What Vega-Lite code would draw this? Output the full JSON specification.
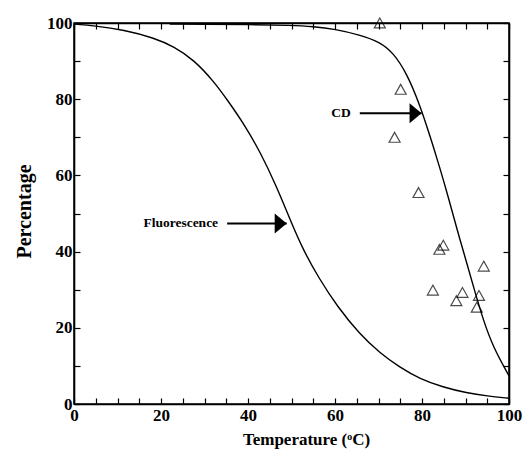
{
  "$schema": "https://vega.github.io/schema/vega-lite/v6.json",
  "width": 435,
  "height": 381,
  "autosize": {"type": "none"},
  "padding": {"left": 74, "top": 23, "right": 15, "bottom": 53},
  "background": "white",
  "config": {
    "view": {"stroke": "black", "strokeWidth": 1.5},
    "font": "Liberation Serif",
    "axis": {
      "grid": false,
      "domainColor": "black",
      "domainWidth": 1.6,
      "tickColor": "black",
      "tickWidth": 1.2,
      "labelFont": "Liberation Serif",
      "labelFontWeight": "bold",
      "labelFontSize": 17,
      "labelColor": "black",
      "labelOverlap": false,
      "labelFlush": false,
      "titleFont": "Liberation Serif",
      "titleFontWeight": "bold",
      "titleColor": "black"
    }
  },
  "datasets": {
    "curves": [
      {"series": "Fluorescence", "temp": 0, "pct": 99.7},
      {"series": "Fluorescence", "temp": 4.6, "pct": 99.3},
      {"series": "Fluorescence", "temp": 11.5, "pct": 98.2},
      {"series": "Fluorescence", "temp": 18.4, "pct": 96.1},
      {"series": "Fluorescence", "temp": 23, "pct": 93.8},
      {"series": "Fluorescence", "temp": 27.6, "pct": 90.3},
      {"series": "Fluorescence", "temp": 32.2, "pct": 84.6},
      {"series": "Fluorescence", "temp": 35.5, "pct": 79.4},
      {"series": "Fluorescence", "temp": 38.9, "pct": 73.8},
      {"series": "Fluorescence", "temp": 42.8, "pct": 66.2},
      {"series": "Fluorescence", "temp": 46.6, "pct": 57},
      {"series": "Fluorescence", "temp": 49.7, "pct": 48.3},
      {"series": "Fluorescence", "temp": 52.7, "pct": 40.4},
      {"series": "Fluorescence", "temp": 56.2, "pct": 33.2},
      {"series": "Fluorescence", "temp": 60.5, "pct": 25.6},
      {"series": "Fluorescence", "temp": 65.7, "pct": 18.3},
      {"series": "Fluorescence", "temp": 70.3, "pct": 13.4},
      {"series": "Fluorescence", "temp": 74.9, "pct": 9.6},
      {"series": "Fluorescence", "temp": 79.5, "pct": 6.6},
      {"series": "Fluorescence", "temp": 84.8, "pct": 4.4},
      {"series": "Fluorescence", "temp": 90.3, "pct": 2.9},
      {"series": "Fluorescence", "temp": 95, "pct": 2.1},
      {"series": "Fluorescence", "temp": 100, "pct": 1.5},
      {"series": "CD", "temp": 22, "pct": 99.7},
      {"series": "CD", "temp": 30, "pct": 99.7},
      {"series": "CD", "temp": 40, "pct": 99.6},
      {"series": "CD", "temp": 50, "pct": 99.4},
      {"series": "CD", "temp": 55, "pct": 99.1},
      {"series": "CD", "temp": 60, "pct": 98.4},
      {"series": "CD", "temp": 65.7, "pct": 96.9},
      {"series": "CD", "temp": 70.3, "pct": 95},
      {"series": "CD", "temp": 73.4, "pct": 92.2},
      {"series": "CD", "temp": 76.5, "pct": 86.8},
      {"series": "CD", "temp": 79.5, "pct": 78.5},
      {"series": "CD", "temp": 81.8, "pct": 70.5},
      {"series": "CD", "temp": 84.1, "pct": 62},
      {"series": "CD", "temp": 86, "pct": 54.5},
      {"series": "CD", "temp": 88, "pct": 46},
      {"series": "CD", "temp": 90.3, "pct": 37},
      {"series": "CD", "temp": 92.2, "pct": 29.3},
      {"series": "CD", "temp": 94.1, "pct": 22},
      {"series": "CD", "temp": 96.4, "pct": 14.8},
      {"series": "CD", "temp": 100, "pct": 7.4}
    ],
    "measured": [
      {"temp": 70.3, "pct": 100},
      {"temp": 75.1, "pct": 82.6},
      {"temp": 73.7, "pct": 70},
      {"temp": 79.2, "pct": 55.5},
      {"temp": 84, "pct": 40.6},
      {"temp": 84.9, "pct": 41.7},
      {"temp": 94.2, "pct": 36.2},
      {"temp": 82.5, "pct": 29.9},
      {"temp": 89.3, "pct": 29.3},
      {"temp": 87.9, "pct": 27.1},
      {"temp": 93.1, "pct": 28.5},
      {"temp": 92.6, "pct": 25.4}
    ],
    "arrows": [
      {"label": "Fluorescence", "start": 35.2, "tip": 48.9, "pct": 47.4},
      {"label": "CD", "start": 65.7, "tip": 79.9, "pct": 76.3}
    ]
  },
  "layer": [
    {
      "data": {"name": "curves"},
      "mark": {"type": "line", "color": "black", "strokeWidth": 1.4, "interpolate": "basis"},
      "encoding": {
        "x": {
          "field": "temp",
          "type": "quantitative",
          "scale": {"domain": [0, 100], "nice": false},
          "axis": {
            "orient": "bottom",
            "title": "Temperature (ᵒC)",
            "titleFontSize": 17,
            "values": [0, 5, 10, 15, 20, 25, 30, 35, 40, 45, 50, 55, 60, 65, 70, 75, 80, 85, 90, 95, 100],
            "labelExpr": "datum.value % 20 === 0 ? datum.label : ''",
            "tickSize": -6,
            "labelPadding": 9,
            "titleX": 232,
            "titleY": 40,
            "titleAlign": "center",
            "titleBaseline": "alphabetic"
          }
        },
        "y": {
          "field": "pct",
          "type": "quantitative",
          "scale": {"domain": [0, 100], "nice": false},
          "axis": {
            "orient": "left",
            "title": "Percentage",
            "titleFontSize": 20,
            "values": [0, 10, 20, 30, 40, 50, 60, 70, 80, 90, 100],
            "labelExpr": "datum.value % 20 === 0 ? datum.label : ''",
            "tickSize": -6,
            "labelPadding": 8,
            "titleX": -44,
            "titleY": 188,
            "titleAngle": -90,
            "titleAlign": "center",
            "titleBaseline": "alphabetic"
          }
        },
        "detail": {"field": "series"}
      }
    },
    {
      "data": {"name": "measured"},
      "mark": {
        "type": "point",
        "shape": "M0,-0.9L1,0.9L-1,0.9Z",
        "size": 121,
        "filled": false,
        "stroke": "black",
        "strokeWidth": 1.2
      },
      "encoding": {
        "x": {
          "field": "temp",
          "type": "quantitative",
          "axis": {
            "orient": "top",
            "title": null,
            "labels": false,
            "values": [0, 5, 10, 15, 20, 25, 30, 35, 40, 45, 50, 55, 60, 65, 70, 75, 80, 85, 90, 95, 100],
            "tickSize": -6
          }
        },
        "y": {
          "field": "pct",
          "type": "quantitative",
          "axis": {
            "orient": "right",
            "title": null,
            "labels": false,
            "values": [0, 10, 20, 30, 40, 50, 60, 70, 80, 90, 100],
            "tickSize": -6
          }
        }
      }
    },
    {
      "data": {"name": "arrows"},
      "mark": {"type": "rule", "color": "black", "strokeWidth": 2},
      "encoding": {
        "x": {"field": "start", "type": "quantitative", "axis": null},
        "x2": {"field": "tip"},
        "y": {"field": "pct", "type": "quantitative", "axis": null}
      }
    },
    {
      "data": {"name": "arrows"},
      "mark": {
        "type": "point",
        "shape": "M-1,-0.833L0,0L-1,0.833Z",
        "size": 576,
        "filled": true,
        "color": "black",
        "opacity": 1
      },
      "encoding": {
        "x": {"field": "tip", "type": "quantitative", "axis": null},
        "y": {"field": "pct", "type": "quantitative", "axis": null}
      }
    },
    {
      "data": {"name": "arrows"},
      "mark": {
        "type": "text",
        "align": "right",
        "baseline": "middle",
        "dx": -9,
        "font": "Liberation Serif",
        "fontWeight": "bold",
        "fontSize": 13.5,
        "color": "black"
      },
      "encoding": {
        "x": {"field": "start", "type": "quantitative", "axis": null},
        "y": {"field": "pct", "type": "quantitative", "axis": null},
        "text": {"field": "label"}
      }
    }
  ],
  "resolve": {"axis": {"x": "independent", "y": "independent"}}
}
